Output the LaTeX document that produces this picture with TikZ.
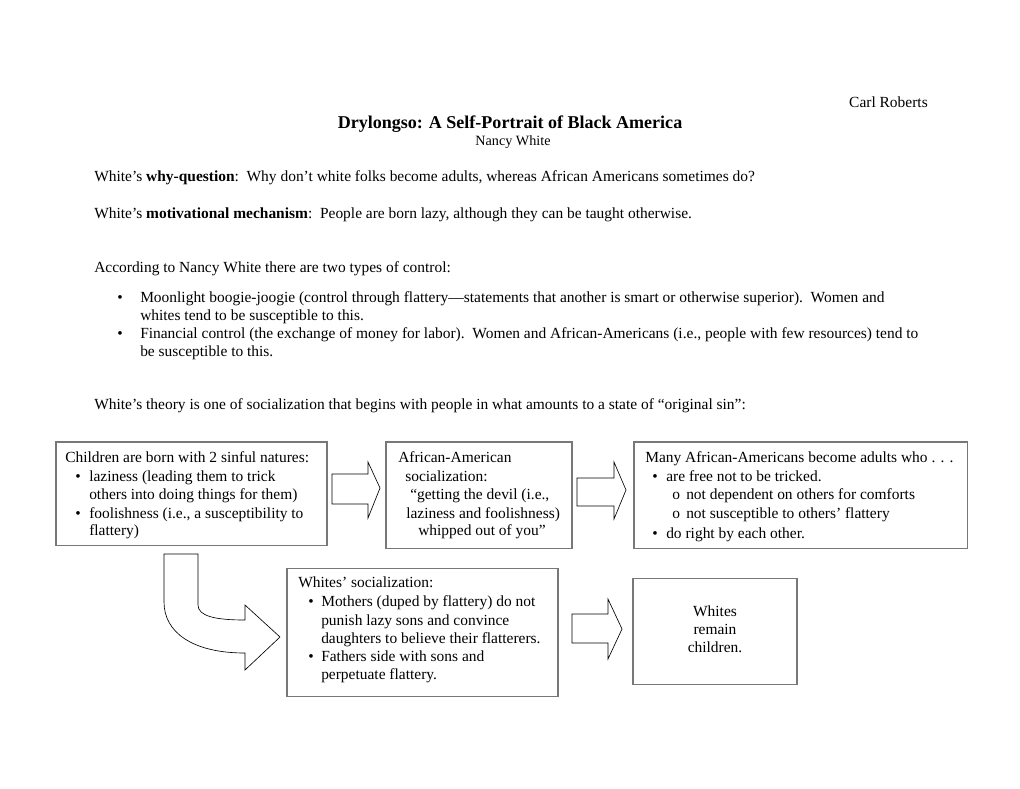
\documentclass[tikz,border=0pt]{standalone}
\usepackage{fontspec}
\setmainfont{Liberation Serif}
\usetikzlibrary{fit}
\begin{document}
\begin{tikzpicture}[x=0.77647pt,y=-0.77647pt,
  txt/.style={inner sep=0pt,anchor=base west,font=\fontsize{12}{14}\selectfont},
  btxt/.style={inner sep=0pt,anchor=base west,font=\fontsize{12}{14}\selectfont},
  box/.style={draw={rgb,255:red,120;green,120;blue,120},line width=0.8pt,inner sep=0pt},
  barrow/.style={draw=black,line width=0.5pt,fill=white,line join=miter}]
\useasboundingbox (0,0) rectangle (1020,788);

% header
\node[txt,anchor=base east] (author) at (928,107) {Carl Roberts};
\node[txt,anchor=base,font=\fontsize{14}{16}\selectfont\bfseries] (title) at (510,128) {Drylongso: A Self-Portrait of Black America};
\node[txt,anchor=base,font=\fontsize{11}{13}\selectfont] (sub) at (513,145) {Nancy White};

\node[txt] (q) at (94,181) {White’s \textbf{why-question}:\ \ Why don’t white folks become adults, whereas African Americans sometimes do?};
\node[txt] (m) at (94,218) {White’s \textbf{motivational mechanism}:\ \ People are born lazy, although they can be taught otherwise.};
\node[txt] (acc) at (94,272) {According to Nancy White there are two types of control:};
\node[txt] (b1a) at (117,302) {•};
\node[txt] (l1) at (140,302) {Moonlight boogie-joogie (control through flattery—statements that another is smart or otherwise superior).\ \ Women and};
\node[txt] (l2) at (140,320) {whites tend to be susceptible to this.};
\node[txt] (b1b) at (117,338) {•};
\node[txt] (l3) at (140,338) {Financial control (the exchange of money for labor).\ \ Women and African-Americans (i.e., people with few resources) tend to};
\node[txt] (l4) at (140,356) {be susceptible to this.};
\node[txt] (th) at (94,409) {White’s theory is one of socialization that begins with people in what amounts to a state of “original sin”:};

% boxes
\node[box,fit={(56,442)(327,545)}] (box1) {};
\node[box,fit={(386,442)(572,548)}] (box2) {};
\node[box,fit={(634,442)(967,548)}] (box3) {};
\node[box,fit={(287,568)(558,696)}] (box4) {};
\node[box,fit={(633,578)(797,684)}] (box5) {};

% box1 text
\node[btxt] (t11) at (65,462) {Children are born with 2 sinful natures:};
\node[btxt] (t12b) at (75,481) {•};
\node[btxt] (t12) at (89,481) {laziness (leading them to trick};
\node[btxt] (t13) at (89,499) {others into doing things for them)};
\node[btxt] (t14b) at (75,518) {•};
\node[btxt] (t14) at (89,518) {foolishness (i.e., a susceptibility to};
\node[btxt] (t15) at (89,535) {flattery)};

% box2 text
\node[btxt] (t21) at (398,462) {African-American};
\node[btxt] (t22) at (405,481) {socialization:};
\node[btxt] (t23) at (410,499) {“getting the devil (i.e.,};
\node[btxt] (t24) at (406,518) {laziness and foolishness)};
\node[btxt] (t25) at (418,535) {whipped out of you”};

% box3 text
\node[btxt] (t31) at (645,462) {Many African-Americans become adults who . . .};
\node[btxt] (t32b) at (652,481) {•};
\node[btxt] (t32) at (666,481) {are free not to be tricked.};
\node[btxt] (t33b) at (672,499) {o};
\node[btxt] (t33) at (686,499) {not dependent on others for comforts};
\node[btxt] (t34b) at (672,518) {o};
\node[btxt] (t34) at (686,518) {not susceptible to others’ flattery};
\node[btxt] (t35b) at (652,538) {•};
\node[btxt] (t35) at (666,538) {do right by each other.};

% box4 text
\node[btxt] (t41) at (298,587) {Whites’ socialization:};
\node[btxt] (t42b) at (308,606) {•};
\node[btxt] (t42) at (321,606) {Mothers (duped by flattery) do not};
\node[btxt] (t43) at (321,625) {punish lazy sons and convince};
\node[btxt] (t44) at (321,643) {daughters to believe their flatterers.};
\node[btxt] (t45b) at (308,661) {•};
\node[btxt] (t45) at (321,661) {Fathers side with sons and};
\node[btxt] (t46) at (321,679) {perpetuate flattery.};

% box5 text
\node[btxt,anchor=base] (t51) at (715,616) {Whites};
\node[btxt,anchor=base] (t52) at (715,634) {remain};
\node[btxt,anchor=base] (t53) at (715,652) {children.};

% block arrows
\draw[barrow] (332,474) -- (368,474) -- (368,462) -- (380,488) -- (368,518) -- (368,504) -- (332,504) -- cycle;
\draw[barrow] (577,478) -- (614,478) -- (614,462) -- (626,490) -- (614,519) -- (614,506) -- (577,506) -- cycle;
\draw[barrow] (572,614) -- (608,614) -- (608,599) -- (622,629) -- (608,659) -- (608,643) -- (572,643) -- cycle;
% curved arrow
\draw[barrow] (164,554) -- (198,554) -- (198,605)
  .. controls (198,616) and (215,620) .. (245,620)
  -- (245,605) -- (280,637) -- (245,670) -- (245,653)
  .. controls (192,653) and (164,632) .. (164,602) -- cycle;
\end{tikzpicture}
\end{document}
